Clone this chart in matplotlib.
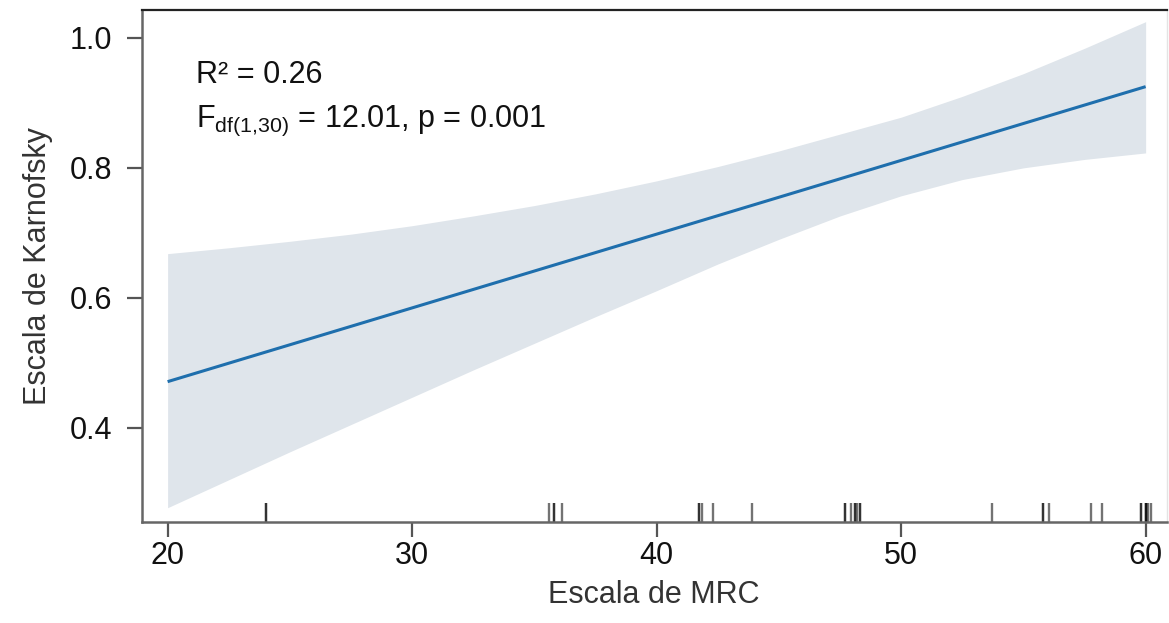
import numpy as np
import matplotlib.pyplot as plt
from matplotlib import transforms

plt.rcParams['font.family'] = ['Liberation Sans', 'DejaVu Sans']
plt.rcParams['mathtext.fontset'] = 'custom'
plt.rcParams['mathtext.rm'] = 'Liberation Sans'
plt.rcParams['mathtext.default'] = 'regular'

# regression line (Escala de MRC -> Escala de Karnofsky)
fit_x = [20, 60]
fit_y = [0.471, 0.925]

# confidence band
band_x = [20, 22.5, 25, 27.5, 30, 32.5, 35, 37.5, 40, 42.5, 45, 47.5, 50, 52.5, 55, 57.5, 60]
band_hi = [0.668, 0.677, 0.687, 0.698, 0.711, 0.726, 0.742, 0.760, 0.780, 0.802,
           0.826, 0.852, 0.878, 0.910, 0.945, 0.984, 1.025]
band_lo = [0.277, 0.320, 0.363, 0.405, 0.447, 0.489, 0.530, 0.571, 0.611, 0.652,
           0.690, 0.726, 0.757, 0.782, 0.800, 0.813, 0.823]

# observed MRC values (rug)
rug_x = [24.04, 24.04, 35.6, 35.8, 35.8, 36.15, 41.75, 41.75, 41.85, 42.3, 43.9,
         47.7, 47.7, 47.97, 48.1, 48.1, 48.2, 48.3, 48.3, 53.7, 55.8, 55.8, 56.04,
         57.76, 58.2, 59.8, 59.8, 60.0, 60.0, 60.0, 60.1, 60.2]

fig = plt.figure(figsize=(11.69, 6.23), dpi=100)
ax = fig.add_axes([0.1212, 0.1621, 0.8768, 0.8219])

ax.fill_between(band_x, band_lo, band_hi, color='#dfe5eb', lw=0)
ax.plot(fit_x, fit_y, color='#1f6fad', lw=2.2, solid_capstyle='butt')

trans = transforms.blended_transform_factory(ax.transData, ax.transAxes)
ax.vlines(rug_x, 0, 0.037, transform=trans, color='black', alpha=0.55, lw=1.7)

ax.set_xlim(18.94, 60.86)
ax.set_ylim(0.255, 1.043)
ax.set_xticks([20, 30, 40, 50, 60])
ax.set_yticks([0.4, 0.6, 0.8, 1.0])
ax.set_yticklabels(['0.4', '0.6', '0.8', '1.0'])

for s in ['left', 'bottom']:
    ax.spines[s].set_color('#666666')
    ax.spines[s].set_linewidth(1.8)
ax.spines['top'].set_color('#222222')
ax.spines['top'].set_linewidth(1.6)
ax.spines['right'].set_color('#e4e4e4')
ax.spines['right'].set_linewidth(1.0)

ax.tick_params(axis='both', colors='#555555', length=11, width=1.6,
               labelsize=22, labelcolor='#111111')
ax.tick_params(axis='x', pad=3)
ax.tick_params(axis='y', pad=10)

ax.set_xlabel('Escala de MRC', fontsize=22, color='#333333', labelpad=6)
ax.set_ylabel('Escala de Karnofsky', fontsize=22, color='#333333', labelpad=12)

ax.text(21.18, 0.931, 'R² = 0.26', fontsize=22, color='#111111')
ax.text(21.18, 0.863, r'$\mathregular{F_{df(1{,}30)}}$ = 12.01, p = 0.001',
        fontsize=22, color='#111111')

fig.savefig('out.png', dpi=100)
